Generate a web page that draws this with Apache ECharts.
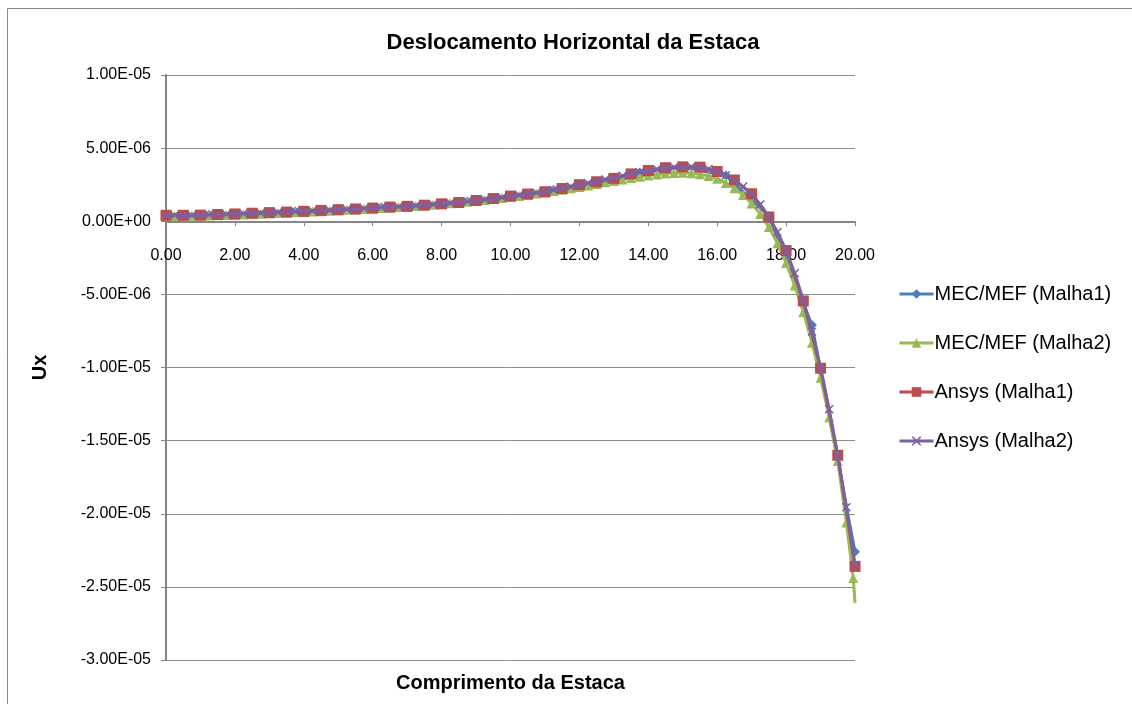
<!DOCTYPE html>
<html>
<head>
<meta charset="utf-8">
<script src="https://cdn.jsdelivr.net/npm/echarts@6/dist/echarts.min.js"></script>
<style>
html,body{margin:0;padding:0;background:#fff;}
#chart{width:1132px;height:704px;}
</style>
</head>
<body>
<div id="chart"></div>
<script>
// Values in units of 1e-6 (micro), labels formatted back to scientific notation
var UNIT = 1e-6;
var seriesNames = ['MEC/MEF (Malha1)', 'MEC/MEF (Malha2)', 'Ansys (Malha1)', 'Ansys (Malha2)'];

// MEC/MEF (Malha1)
var mec1X = [0, 1.25, 2.5, 3.75, 5, 6.25, 7.5, 8.75, 10, 11.25, 12.5, 13.75, 15, 16.25, 17.5, 18.75, 20];
var mec1Y = [0.41, 0.44, 0.55, 0.66, 0.79, 0.94, 1.11, 1.35, 1.71, 2.14, 2.72, 3.34, 3.70, 3.12, 0.35, -7.10, -22.60];

// MEC/MEF (Malha2)  (last point drawn without a marker, as in the source)
var mec2X = [0,0.25,0.5,0.75,1,1.25,1.5,1.75,2,2.25,2.5,2.75,3,3.25,3.5,3.75,4,4.25,4.5,4.75,5,5.25,5.5,5.75,6,6.25,6.5,6.75,7,7.25,7.5,7.75,8,8.25,8.5,8.75,9,9.25,9.5,9.75,10,10.25,10.5,10.75,11,11.25,11.5,11.75,12,12.25,12.5,12.75,13,13.25,13.5,13.75,14,14.25,14.5,14.75,15,15.25,15.5,15.75,16,16.25,16.5,16.75,17,17.25,17.5,17.75,18,18.25,18.5,18.75,19,19.25,19.5,19.75,19.95,20];
var mec2Y = [0.36,0.36,0.37,0.37,0.38,0.39,0.41,0.43,0.45,0.47,0.50,0.52,0.54,0.56,0.59,0.61,0.64,0.66,0.69,0.72,0.75,0.78,0.81,0.84,0.87,0.90,0.94,0.97,1.01,1.05,1.09,1.13,1.18,1.23,1.28,1.33,1.39,1.45,1.52,1.59,1.66,1.73,1.81,1.89,1.97,2.06,2.15,2.25,2.35,2.45,2.55,2.66,2.76,2.86,2.96,3.05,3.13,3.20,3.26,3.30,3.31,3.29,3.22,3.09,2.90,2.62,2.26,1.80,1.22,0.50,-0.40,-1.50,-2.85,-4.40,-6.20,-8.30,-10.70,-13.40,-16.40,-20.60,-24.40,-26.10];

// Ansys (Malha1)
var ans1X = [0,0.5,1,1.5,2,2.5,3,3.5,4,4.5,5,5.5,6,6.5,7,7.5,8,8.5,9,9.5,10,10.5,11,11.5,12,12.5,13,13.5,14,14.5,15,15.5,16,16.5,17,17.5,18,18.5,19,19.5,20];
var ans1Y = [0.41,0.41,0.42,0.46,0.50,0.55,0.59,0.63,0.68,0.74,0.79,0.84,0.90,0.97,1.02,1.10,1.19,1.28,1.42,1.55,1.72,1.86,2.02,2.24,2.50,2.70,2.93,3.24,3.47,3.66,3.72,3.70,3.40,2.82,1.88,0.29,-2.00,-5.45,-10.05,-16.00,-23.60];

// Ansys (Malha2)
var ans2X = [0,0.25,0.5,0.75,1,1.25,1.5,1.75,2,2.25,2.5,2.75,3,3.25,3.5,3.75,4,4.25,4.5,4.75,5,5.25,5.5,5.75,6,6.25,6.5,6.75,7,7.25,7.5,7.75,8,8.25,8.5,8.75,9,9.25,9.5,9.75,10,10.25,10.5,10.75,11,11.25,11.5,11.75,12,12.25,12.5,12.75,13,13.25,13.5,13.75,14,14.25,14.5,14.75,15,15.25,15.5,15.75,16,16.25,16.5,16.75,17,17.25,17.5,17.75,18,18.25,18.5,18.75,19,19.25,19.5,19.75,20];
var ans2Y = [0.41,0.41,0.41,0.41,0.42,0.44,0.46,0.48,0.50,0.53,0.55,0.57,0.59,0.61,0.63,0.66,0.68,0.71,0.74,0.76,0.79,0.82,0.84,0.87,0.90,0.94,0.97,1.00,1.03,1.07,1.11,1.15,1.19,1.24,1.29,1.35,1.42,1.48,1.55,1.63,1.71,1.79,1.87,1.95,2.04,2.14,2.25,2.37,2.49,2.61,2.73,2.86,2.98,3.11,3.23,3.35,3.46,3.56,3.64,3.70,3.73,3.73,3.69,3.58,3.40,3.14,2.80,2.37,1.85,1.15,0.30,-0.75,-2.00,-3.55,-5.40,-7.55,-10.00,-12.85,-16.00,-19.55,-23.50];

var xTickLabels = ['0.00','2.00','4.00','6.00','8.00','10.00','12.00','14.00','16.00','18.00','20.00'];

function pairs(xs, ys, noMarkerLast){
  var out=[];
  for(var i=0;i<xs.length;i++){
    if (noMarkerLast && i === xs.length - 1) out.push({value: [xs[i], ys[i]], symbol: 'none'});
    else out.push([xs[i], ys[i]]);
  }
  return out;
}

function fmtE(vMicro){
  var v = vMicro * UNIT;
  if (Math.abs(v) < 1e-15) return '0.00E+00';
  var e = Math.floor(Math.log10(Math.abs(v)));
  var m = v / Math.pow(10, e);
  if (Math.abs(m) >= 9.995) { m /= 10; e += 1; }
  if (Math.abs(m) < 0.9995) { m *= 10; e -= 1; }
  return m.toFixed(2) + 'E' + (e < 0 ? '-' : '+') + String(Math.abs(e)).padStart(2, '0');
}

var FONT = '"Liberation Sans", Arial, sans-serif';
var colors = ['#4A7EBB', '#98B954', '#BE4B48', '#7D60A0'];
var xPath = 'path://M0,1.2 L1.2,0 L5,3.8 L8.8,0 L10,1.2 L6.2,5 L10,8.8 L8.8,10 L5,6.2 L1.2,10 L0,8.8 L3.8,5 Z';

var GRID_TOP = 75, GRID_BOTTOM_PX = 660;
var Y_MIN = -30, Y_MAX = 10;
// pixel distance from grid bottom up to the y = 0 line (x axis crosses at zero)
var zeroOffset = (GRID_BOTTOM_PX - GRID_TOP) * (0 - Y_MIN) / (Y_MAX - Y_MIN);

var chart = echarts.init(document.getElementById('chart'), null, {renderer: 'canvas'});
var option = {
  backgroundColor: '#fff',
  animation: false,
  color: colors,
  title: {
    text: 'Deslocamento Horizontal da Estaca',
    left: 568, top: 27, textAlign: 'center',
    textStyle: {fontFamily: FONT, fontSize: 22, fontWeight: 'bold', color: '#000'}
  },
  graphic: [{
    type: 'rect', shape: {x: 7.5, y: 8.5, width: 1140, height: 710},
    style: {fill: 'none', stroke: '#898989', lineWidth: 1}, silent: true, z: -1
  }],
  legend: {
    orient: 'vertical', left: 893, top: 279, itemGap: 29,
    itemWidth: 34, itemHeight: 12,
    data: seriesNames,
    lineStyle: {width: 3},
    textStyle: {fontFamily: FONT, fontSize: 20, color: '#000', padding: [0,0,0,-4]}
  },
  grid: {left: 166, right: 277, top: GRID_TOP, bottom: 704 - GRID_BOTTOM_PX, containLabel: false, outerBoundsMode: 'none'},
  xAxis: {
    type: 'value', min: 0, max: 20, interval: 2, position: 'bottom', offset: -zeroOffset,
    name: 'Comprimento da Estaca', nameLocation: 'middle', nameGap: 452,
    nameTextStyle: {fontFamily: FONT, fontSize: 20, fontWeight: 'bold', color: '#000'},
    axisLine: {onZero: false, lineStyle: {color: '#868686', width: 2}},
    axisTick: {show: true, inside: false, length: 5, lineStyle: {color: '#868686', width: 1}},
    axisLabel: {fontFamily: FONT, fontSize: 16, color: '#000', margin: 26,
      formatter: function(v){ return xTickLabels[Math.round(v/2)]; }},
    splitLine: {show: false}
  },
  yAxis: {
    type: 'value', min: Y_MIN, max: Y_MAX, interval: 5,
    name: 'Ux', nameLocation: 'middle', nameGap: 116, nameRotate: 90,
    nameTextStyle: {fontFamily: FONT, fontSize: 20, fontWeight: 'bold', color: '#000'},
    axisLine: {show: true, onZero: false, lineStyle: {color: '#868686', width: 2}},
    axisTick: {show: true, inside: false, length: 5, lineStyle: {color: '#868686', width: 1}},
    axisLabel: {fontFamily: FONT, fontSize: 16, color: '#000', margin: 15, formatter: fmtE},
    splitLine: {show: true, lineStyle: {color: '#8c8c8c', width: 1}}
  },
  series: [
    {name: seriesNames[0], type: 'line', data: pairs(mec1X, mec1Y), symbol: 'diamond', symbolSize: 10,
     lineStyle: {width: 3, color: colors[0]}, itemStyle: {color: colors[0]}, showAllSymbol: true, z: 2},
    {name: seriesNames[1], type: 'line', data: pairs(mec2X, mec2Y, true), symbol: 'triangle', symbolSize: 10,
     lineStyle: {width: 3, color: colors[1]}, itemStyle: {color: colors[1]}, showAllSymbol: true, z: 3},
    {name: seriesNames[2], type: 'line', data: pairs(ans1X, ans1Y), symbol: 'rect', symbolSize: 11,
     lineStyle: {width: 3, color: colors[2]}, itemStyle: {color: colors[2]}, showAllSymbol: true, z: 4},
    {name: seriesNames[3], type: 'line', data: pairs(ans2X, ans2Y), symbol: xPath, symbolSize: 9,
     lineStyle: {width: 3, color: colors[3]}, itemStyle: {color: colors[3]}, showAllSymbol: true, z: 5}
  ]
};
chart.setOption(option);
</script>
</body>
</html>
